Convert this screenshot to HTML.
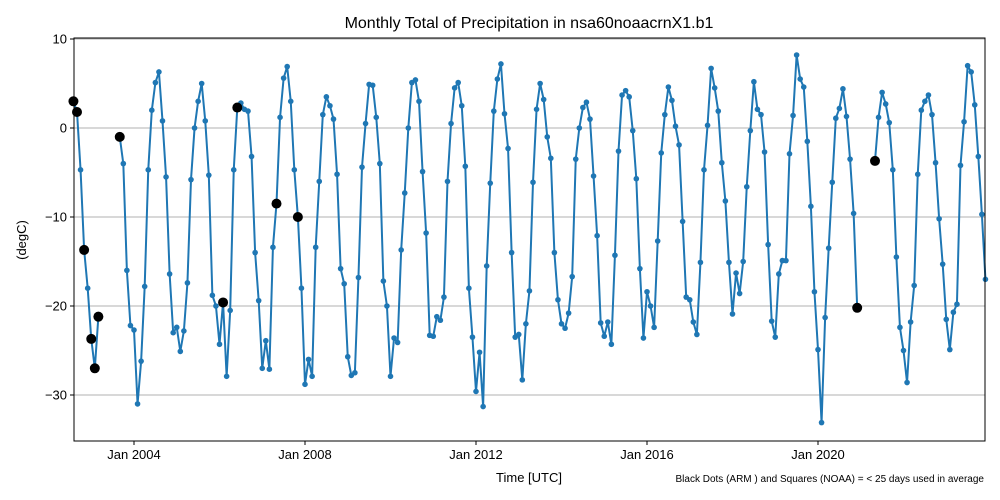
<!DOCTYPE html>
<html><head><meta charset="utf-8"><style>
body{margin:0;background:#fff;}
svg{display:block;font-family:"Liberation Sans","DejaVu Sans",sans-serif;}
</style></head><body>
<svg id="chart" width="1000" height="500" viewBox="0 0 1000 500" xmlns="http://www.w3.org/2000/svg">
<rect width="1000" height="500" fill="#fff"/>
<text x="529" y="28" font-size="16" text-anchor="middle">Monthly Total of Precipitation in nsa60noaacrnX1.b1</text>
<g id="grid"></g>
<g id="series"></g>
<rect x="74" y="38" width="911" height="403" fill="none" stroke="#000" stroke-width="1"/>
<g id="axes"></g>
<text transform="translate(26,240) rotate(-90)" font-size="13" text-anchor="middle">(degC)</text>
<text x="529" y="482" font-size="13" text-anchor="middle">Time [UTC]</text>
<text x="984" y="482" font-size="10" text-anchor="end">Black Dots (ARM ) and Squares (NOAA) = &lt; 25 days used in average</text>
</svg>
<script>
// data: monthly values starting Aug 2002 (null = missing)
const startYear = 2002;
const startMonth = 7;
const values = [
3,1.8,-4.7,-13.7,-18,-23.7,-27,-21.2,null,null,null,null,null,-1,-4,-16,-22.2,
-22.7,-31,-26.2,-17.8,-4.7,2,5.1,6.3,0.8,-5.5,-16.4,-23,
-22.4,-25.1,-22.8,-17.4,-5.8,0,3,5,0.8,-5.3,-18.8,-20,
-24.3,-19.6,-27.9,-20.5,-4.7,2.3,2.8,2.1,1.9,-3.2,-14,-19.4,
-27,-23.9,-27.1,-13.4,-8.5,1.2,5.6,6.9,3,-4.7,-10,-18,
-28.8,-26,-27.9,-13.4,-6,1.5,3.5,2.5,1,-5.2,-15.8,-17.5,
-25.7,-27.8,-27.5,-16.8,-4.4,0.5,4.9,4.8,1.2,-4,-17.2,-20,
-27.9,-23.6,-24.1,-13.7,-7.3,0,5.1,5.4,3,-4.9,-11.8,-23.3,
-23.4,-21.2,-21.6,-19,-6,0.5,4.5,5.1,2.5,-4.3,-18,-23.5,
-29.6,-25.2,-31.3,-15.5,-6.2,1.9,5.5,7.2,1.6,-2.3,-14,-23.5,
-23.2,-28.3,-22,-18.3,-6.1,2.1,5,3.2,-1,-3.4,-14,-19.3,
-22,-22.5,-20.8,-16.7,-3.5,0,2.3,2.9,1,-5.4,-12.1,-21.9,
-23.4,-21.8,-24.3,-14.3,-2.6,3.7,4.2,3.5,-0.3,-5.7,-15.8,-23.6,
-18.4,-20,-22.4,-12.7,-2.8,1.5,4.6,3.1,0.2,-1.9,-10.5,-19,
-19.3,-21.8,-23.2,-15.1,-4.7,0.3,6.7,4.5,1.9,-3.9,-8.2,-15.1,
-20.9,-16.3,-18.6,-15,-6.6,-0.3,5.2,2.1,1.5,-2.7,-13.1,-21.7,
-23.5,-16.4,-14.9,-14.9,-2.9,1.4,8.2,5.5,4.6,-1.5,-8.8,-18.4,
-24.9,-33.1,-21.3,-13.5,-6.1,1.1,2.2,4.4,1.3,-3.5,-9.6,-20.2,
null,null,null,null,-3.7,1.2,4,2.7,0.6,-4.7,-14.5,-22.4,
-25,-28.6,-21.8,-17.7,-5.2,2,3,3.7,1.5,-3.9,-10.2,-15.3,
-21.5,-24.9,-20.7,-19.8,-4.2,0.7,7,6.3,2.6,-3.2,-9.7,-17
];
// indices (into values) flagged with black dots (<25 days)
const flagged = [0,1,3,5,6,7,13,42,46,57,63,220,225];
const yTicks = [10,0,-10,-20,-30];
const xTickYears = [2004,2008,2012,2016,2020];

const NS = "http://www.w3.org/2000/svg";
const L=74,R=985,T=38,B=441;
function xScale(monthsSince2004){return 134 + monthsSince2004*3.5625;}
function yScale(v){return 128 - v*8.9;}
function idxToMonths(i){return (startYear-2004)*12 + startMonth + i;}
function mk(tag,attrs,parent){const e=document.createElementNS(NS,tag);for(const k in attrs)e.setAttribute(k,attrs[k]);parent.appendChild(e);return e;}

const grid=document.getElementById('grid'), axes=document.getElementById('axes'), series=document.getElementById('series');
yTicks.forEach(t=>{
  const y=yScale(t);
  const g=mk('line',{x1:L,x2:R,y1:y,y2:y,stroke:'#b0b0b0','stroke-width':1},grid);
  
  
  mk('line',{x1:L-4,x2:L,y1:y,y2:y,stroke:'#000'},axes);
  const tx=mk('text',{x:L-7,y:y+4.5,'font-size':13,'text-anchor':'end'},axes);
  tx.textContent=t<0?'\u2212'+Math.abs(t):String(t);
  
  
});
xTickYears.forEach(yr=>{
  const x=xScale((yr-2004)*12);
  mk('line',{x1:x,x2:x,y1:B,y2:B+4,stroke:'#000'},axes);
  const tx=mk('text',{x:x,y:B+18,'font-size':13,'text-anchor':'middle'},axes);
  tx.textContent='Jan '+yr;
  
  
});
// line segments split at nulls
let d='',pen=false;
values.forEach((v,i)=>{
  if(v===null){pen=false;return;}
  const x=xScale(idxToMonths(i)),y=yScale(v);
  d+=(pen?'L':'M')+x.toFixed(2)+','+y.toFixed(2);
  pen=true;
});
const path=mk('path',{d:d,fill:'none',stroke:'#1f77b4','stroke-width':2,'stroke-linejoin':'round'},series);


values.forEach((v,i)=>{
  if(v===null)return;
  const c=mk('circle',{cx:xScale(idxToMonths(i)),cy:yScale(v),r:2.8,fill:'#1f77b4'},series);
  
  
});
flagged.forEach(i=>{
  const v=values[i]; if(v===null)return;
  const c=mk('circle',{cx:xScale(idxToMonths(i)),cy:yScale(v),r:5,fill:'#000'},series);
  
  
});
</script>
</body></html>
